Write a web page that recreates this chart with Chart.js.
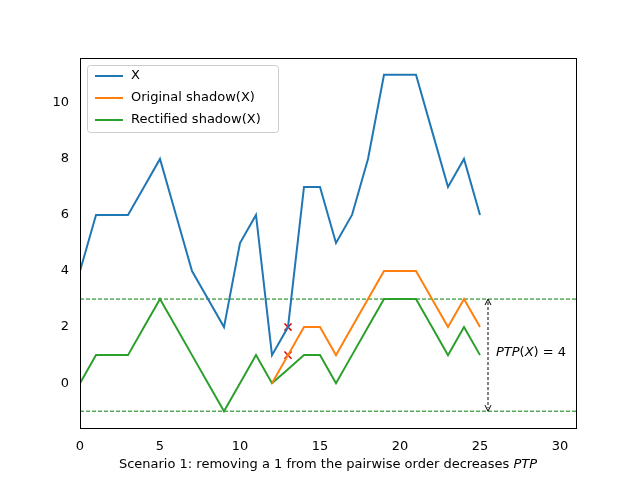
<!DOCTYPE html>
<html><head><script src="https://cdn.jsdelivr.net/npm/chart.js@4"></script>
<style>body{margin:0;background:#fff}canvas{display:block}</style></head>
<body><div style="width:640px;height:480px"><canvas id="c"></canvas></div>
<script>
const xs=[0,1,2,3,4,5,6,7,8,9,10,11,12,13,14,15,16,17,18,19,20,21,22,23,24,25];
const seriesX=[4,6,6,6,7,8,6,4,3,2,5,6,1,2,7,7,5,6,8,11,11,11,9,7,8,6];
const origX=[12,13,14,15,16,17,18,19,20,21,22,23,24,25];
const origShadow=[0,1,2,2,1,2,3,4,4,4,3,2,3,2];
const rectShadow=[0,1,1,1,2,3,2,1,0,-1,0,1,0,0.5,1,1,0,1,2,3,3,3,2,1,2,1];
const markers=[[13,2],[13,1]];
const bounds=[3,-1];
const xTicks=[0,5,10,15,20,25,30];
const yTicks=[0,2,4,6,8,10];
const pts=(a,b)=>a.map((x,i)=>({x,y:b[i]}));
const F='"DejaVu Sans"';
const over={id:'over',afterDatasetsDraw(ch){
 const c=ch.ctx,xs_=ch.scales.x,ys=ch.scales.y;
 const ax=xs_.getPixelForValue(25.5),y1=ys.getPixelForValue(bounds[0]),y2=ys.getPixelForValue(bounds[1]);
 c.save();c.strokeStyle='#000';c.lineWidth=1;c.setLineDash([3,2]);
 c.beginPath();c.moveTo(ax,y1+3);c.lineTo(ax,y2-3);c.stroke();c.setLineDash([]);
 c.beginPath();c.moveTo(ax-3,y1+6);c.lineTo(ax,y1);c.lineTo(ax+3,y1+6);c.moveTo(ax-3,y2-6);c.lineTo(ax,y2);c.lineTo(ax+3,y2-6);c.stroke();
 c.fillStyle='#000';c.textBaseline='middle';
 let tx=xs_.getPixelForValue(26),ty=ys.getPixelForValue(1.1);
 c.font='italic 13px '+F;c.fillText('PTP',tx,ty);let w=c.measureText('PTP').width;
 c.font='13px '+F;c.fillText('(',tx+w,ty);w+=c.measureText('(').width;
 c.font='italic 13px '+F;c.fillText('X',tx+w,ty);w+=c.measureText('X').width;
 c.font='13px '+F;c.fillText(') = 4',tx+w,ty);
 // x title
 const t1='Scenario 1: removing a 1 from the pairwise order decreases ';
 c.font='13px '+F;const w1=c.measureText(t1).width;c.font='italic 13px '+F;const w2=c.measureText('PTP').width;
 const sx=(ch.chartArea.left+ch.chartArea.right)/2-(w1+w2)/2;
 c.font='13px '+F;c.fillText(t1,sx,465);c.font='italic 13px '+F;c.fillText('PTP',sx+w1,465);
 // legend
 const L=[['X','#1f77b4'],['Original shadow(X)','#ff7f0e'],['Rectified shadow(X)','#2ca02c']];
 c.strokeStyle='#ccc';c.lineWidth=1;c.fillStyle='rgba(255,255,255,0.8)';c.beginPath();c.roundRect(87.5,65.5,191,67,3);c.fill();c.stroke();
 L.forEach((l,i)=>{const yy=76+i*22;c.strokeStyle=l[1];c.lineWidth=2;c.beginPath();c.moveTo(95,yy);c.lineTo(123,yy);c.stroke();
  c.fillStyle='#000';c.font='13px '+F;c.fillText(l[0],131,yy);});
 c.restore();}};
new Chart(document.getElementById('c'),{type:'scatter',
data:{datasets:[
 {data:pts(xs,seriesX),showLine:true,borderColor:'#1f77b4',borderWidth:2,pointRadius:0},
 {data:pts(origX,origShadow),showLine:true,borderColor:'#ff7f0e',borderWidth:2,pointRadius:0},
 {data:pts(xs,rectShadow),showLine:true,borderColor:'#2ca02c',borderWidth:2,pointRadius:0},
 {data:[{x:0,y:bounds[0]},{x:31,y:bounds[0]}],showLine:true,borderColor:'#008000',borderWidth:1,borderDash:[4,2],pointRadius:0},
 {data:[{x:0,y:bounds[1]},{x:31,y:bounds[1]}],showLine:true,borderColor:'#008000',borderWidth:1,borderDash:[4,2],pointRadius:0},
 {data:markers.map(m=>({x:m[0],y:m[1]})),pointStyle:'crossRot',pointRadius:5,borderColor:'#e00000',borderWidth:1.5}
]},
options:{animation:false,responsive:true,maintainAspectRatio:false,
 layout:{padding:{left:0,top:58,right:64,bottom:0}},
 plugins:{legend:{display:false},tooltip:{enabled:false}},
 scales:{
  x:{type:'linear',min:0,max:31,grid:{display:false,drawTicks:true},border:{color:'#000'},
   afterBuildTicks:a=>{a.ticks=xTicks.map(v=>({value:v}))},afterFit:a=>{a.height=52},
   ticks:{color:'#000',font:{family:F,size:13},maxRotation:0}},
  y:{type:'linear',min:-1.6,max:11.6,grid:{display:false},border:{color:'#000'},
   afterBuildTicks:a=>{a.ticks=yTicks.map(v=>({value:v}))},afterFit:a=>{a.width=80},
   ticks:{color:'#000',font:{family:F,size:13}}}
 }},plugins:[over,{id:'frame',afterDraw(ch){const a=ch.chartArea,c=ch.ctx;c.save();c.strokeStyle='#000';c.lineWidth=1;c.strokeRect(a.left+0.5,a.top+0.5,a.right-a.left,a.bottom-a.top);c.restore();}}]});
</script></body></html>
